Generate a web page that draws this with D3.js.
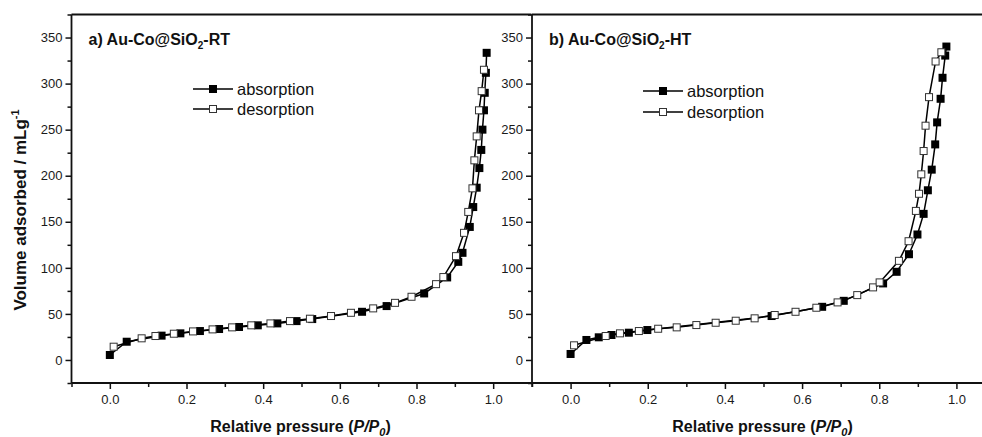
<!DOCTYPE html>
<html>
<head>
<meta charset="utf-8">
<script src="https://cdn.jsdelivr.net/npm/d3@7"></script>
<style>
  html, body { margin: 0; padding: 0; background: #fff; }
  svg { display: block; font-family: "Liberation Sans", Arial, sans-serif; }
</style>
</head>
<body>
<svg id="chart" width="982" height="437"></svg>
<script>
// ---------- data ----------
const panelTitles = ["a) Au-Co@SiO", "b) Au-Co@SiO"];
const panelSuffix = ["-RT", "-HT"];
const legendLabels = ["absorption", "desorption"];
const xTicks = [0.0, 0.2, 0.4, 0.6, 0.8, 1.0];
const yTicks = [0, 50, 100, 150, 200, 250, 300, 350];

// Panel a) RT
const rtAbsP = [0, 0.044, 0.135, 0.184, 0.235, 0.285, 0.337, 0.386, 0.437, 0.487, 0.528, 0.658, 0.722, 0.820, 0.880, 0.909, 0.920, 0.939, 0.948, 0.957, 0.964, 0.969, 0.972, 0.976, 0.978, 0.981, 0.983];
const rtAbsV = [5.4, 19.8, 26.4, 28.9, 31.4, 33.6, 35.8, 37.6, 39.7, 42.2, 44.4, 52.3, 58.5, 72.2, 89.6, 106.5, 116.3, 144.4, 166, 187, 208.3, 228, 250, 271, 290, 311.7, 333.4];
const rtDesP = [0.010, 0.083, 0.119, 0.167, 0.217, 0.268, 0.319, 0.369, 0.419, 0.470, 0.522, 0.577, 0.629, 0.687, 0.744, 0.787, 0.851, 0.870, 0.903, 0.924, 0.935, 0.946, 0.951, 0.957, 0.963, 0.970, 0.976];
const rtDesV = [14.4, 23.5, 26, 28.5, 31, 33.2, 35.4, 37.6, 39.7, 42.2, 44.8, 47.7, 51.2, 56, 62, 68.6, 82.3, 90, 112.7, 138, 160.7, 186.3, 216.7, 242.7, 271, 291.8, 315];

// Panel b) HT
const htAbsP = [0, 0.041, 0.073, 0.106, 0.151, 0.199, 0.521, 0.652, 0.708, 0.810, 0.845, 0.877, 0.899, 0.915, 0.926, 0.936, 0.945, 0.950, 0.959, 0.964, 0.971, 0.974];
const htAbsV = [6.5, 21.7, 24.6, 27.1, 29.6, 32.5, 47.7, 57.7, 64.2, 83.1, 95.7, 114.8, 136.2, 158.6, 184.2, 206.6, 234, 257.9, 283.5, 306.3, 330.4, 340.2];
const htDesP = [0.009, 0.091, 0.128, 0.177, 0.227, 0.275, 0.326, 0.376, 0.428, 0.477, 0.529, 0.583, 0.637, 0.692, 0.743, 0.784, 0.801, 0.851, 0.876, 0.895, 0.903, 0.909, 0.915, 0.920, 0.929, 0.946, 0.961];
const htDesV = [15.9, 26, 28.9, 31.4, 33.9, 35.4, 37.9, 40.4, 42.6, 45.2, 48.8, 52.3, 56.7, 62.5, 70.4, 78.8, 84.2, 107.6, 128.9, 161.8, 180.4, 201.5, 226.8, 254.3, 285.3, 324, 334];

// ---------- layout ----------
const svg = d3.select("#chart");
const plotTop = 14.5, plotBottom = 383;
const panels = [
  { x0: 71.5, x1: 531.5, abs: [rtAbsP, rtAbsV], des: [rtDesP, rtDesV], title: 0, legX: 193, legY: [89, 109] },
  { x0: 532, x1: 995, abs: [htAbsP, htAbsV], des: [htDesP, htDesV], title: 1, legX: 643, legY: [91, 112] }
];
const y = d3.scaleLinear().domain([-25, 375]).range([plotBottom, plotTop]);
const xMinor = d3.range(-1, 12, 2).map(d => d / 10);
const yMinor = d3.range(-25, 376, 50);

panels.forEach((p, i) => {
  const x = d3.scaleLinear().domain([-0.1, 1.1]).range([p.x0, p.x1]);
  const g = svg.append("g");

  const xa = g.append("g").attr("transform", `translate(0,${plotBottom})`)
    .call(d3.axisBottom(x).tickValues(xTicks).tickSize(6).tickPadding(6).tickFormat(d3.format(".1f")));
  const xm = g.append("g").attr("transform", `translate(0,${plotBottom})`)
    .call(d3.axisBottom(x).tickValues(xMinor).tickSize(4).tickFormat(""));
  const ya = g.append("g").attr("transform", `translate(${p.x0},0)`)
    .call(d3.axisLeft(y).tickValues(yTicks).tickSize(6).tickPadding(3));
  const ym = g.append("g").attr("transform", `translate(${p.x0},0)`)
    .call(d3.axisLeft(y).tickValues(yMinor).tickSize(4).tickFormat(""));
  [xa, xm, ya, ym].forEach(a => {
    a.select(".domain").remove();
    a.selectAll("line").attr("stroke", "#111").attr("stroke-width", 1.5);
    a.selectAll("text").attr("font-size", 13).attr("fill", "#1a1a1a")
      .attr("font-family", "'Liberation Sans', Arial, sans-serif");
  });

  g.append("line").attr("x1", p.x0).attr("x2", p.x1).attr("y1", plotBottom).attr("y2", plotBottom)
    .attr("stroke", "#111").attr("stroke-width", 1.8);
  g.append("line").attr("x1", p.x0).attr("x2", p.x1).attr("y1", plotTop).attr("y2", plotTop)
    .attr("stroke", "#111").attr("stroke-width", 1.8);
  g.append("line").attr("x1", p.x0).attr("x2", p.x0).attr("y1", plotTop).attr("y2", plotBottom)
    .attr("stroke", "#111").attr("stroke-width", 1.8);

  const xt = g.append("text").attr("x", (x(0) + x(1)) / 2 - 1).attr("y", 432)
    .attr("text-anchor", "middle").attr("font-size", 16).attr("font-weight", "bold").attr("fill", "#111");
  xt.append("tspan").text("Relative pressure (");
  xt.append("tspan").attr("font-style", "italic").text("P/P");
  xt.append("tspan").attr("font-style", "italic").attr("font-size", 11).attr("dy", 4).text("0");
  xt.append("tspan").attr("dy", -4).text(")");

  const tt = g.append("text").attr("x", p.x0 + 17).attr("y", 45)
    .attr("font-size", 16).attr("font-weight", "bold").attr("fill", "#111");
  tt.append("tspan").text(panelTitles[p.title]);
  tt.append("tspan").attr("font-size", 10).attr("dy", 4).text("2");
  tt.append("tspan").attr("dy", -4).text(panelSuffix[p.title]);

  const line = d3.line().x(d => x(d[0])).y(d => y(d[1]));
  const absPts = p.abs[0].map((v, k) => [v, p.abs[1][k]]);
  const desPts = p.des[0].map((v, k) => [v, p.des[1][k]]);
  g.append("path").datum(absPts).attr("d", line).attr("fill", "none").attr("stroke", "#000").attr("stroke-width", 1.5);
  g.append("path").datum(desPts).attr("d", line).attr("fill", "none").attr("stroke", "#000").attr("stroke-width", 1.5);
  const s = 8;
  g.selectAll(".abs").data(absPts).join("rect").attr("class", "abs")
    .attr("x", d => x(d[0]) - s / 2).attr("y", d => y(d[1]) - s / 2)
    .attr("width", s).attr("height", s).attr("fill", "#000");
  g.selectAll(".des").data(desPts).join("rect").attr("class", "des")
    .attr("x", d => x(d[0]) - s / 2 + 0.5).attr("y", d => y(d[1]) - s / 2 + 0.5)
    .attr("width", s - 1).attr("height", s - 1).attr("fill", "#fff").attr("stroke", "#333").attr("stroke-width", 1);

  legendLabels.forEach((lab, k) => {
    const ly = p.legY[k];
    g.append("line").attr("x1", p.legX).attr("x2", p.legX + 40).attr("y1", ly).attr("y2", ly)
      .attr("stroke", "#000").attr("stroke-width", 1.5);
    if (k === 0) {
      g.append("rect").attr("x", p.legX + 16).attr("y", ly - 4).attr("width", 8).attr("height", 8).attr("fill", "#000");
    } else {
      g.append("rect").attr("x", p.legX + 16.5).attr("y", ly - 3.5).attr("width", 7).attr("height", 7)
        .attr("fill", "#fff").attr("stroke", "#333");
    }
    g.append("text").attr("x", p.legX + 44).attr("y", ly + 5.5).attr("font-size", 16.5).attr("fill", "#111").text(lab);
  });
});

const yt = svg.append("text").attr("transform", "translate(26,210) rotate(-90)")
  .attr("text-anchor", "middle").attr("font-size", 17).attr("font-weight", "bold").attr("fill", "#111");
yt.append("tspan").text("Volume adsorbed / mLg");
yt.append("tspan").attr("font-size", 11).attr("dy", -7).text("-1");
</script>
</body>
</html>
